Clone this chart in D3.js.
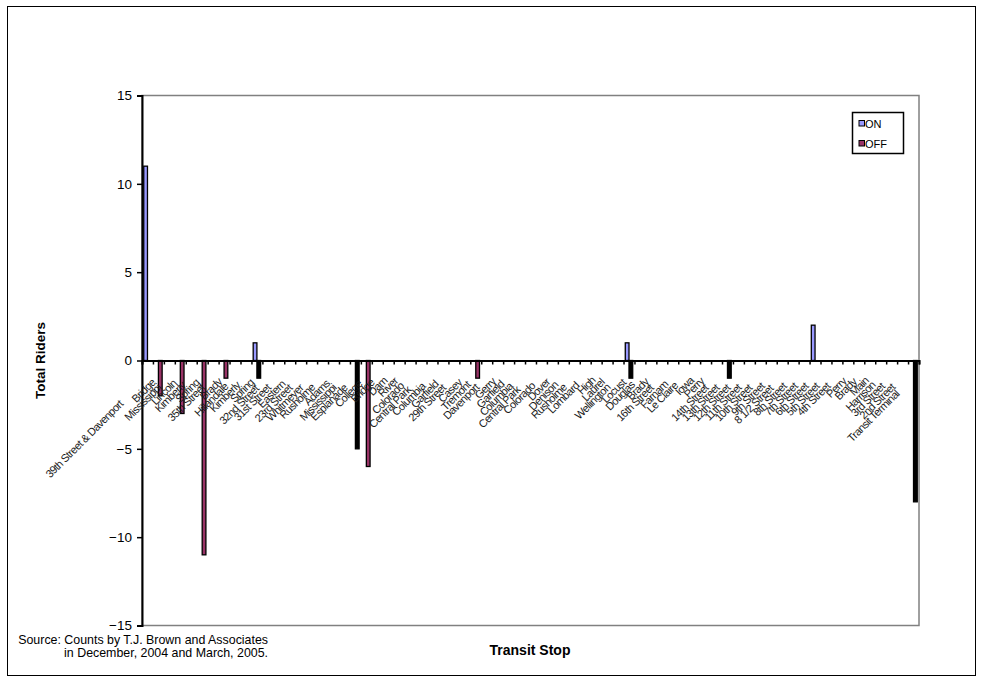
<!DOCTYPE html>
<html><head><meta charset="utf-8">
<script src="https://cdn.jsdelivr.net/npm/d3@7"></script>
<style>body{margin:0;background:#fff;} svg{display:block;font-family:"Liberation Sans",Arial,sans-serif;}</style>
</head><body><svg id="c" width="982" height="679"></svg>
<script>
const categories = ["39th Street & Davenport","Bridge","Mississippi","Lincoln","Kimberly","Spring","35th Street","Brady","Hillandale","Kimberly","Spring","32nd Street","31st Street","Eastern","23rd Street","Whitmeyer","Rusholme","Adams","Mississippi","Esplanade","College","Bridge","Dam","River","Colorado","Central Park","Columbia","Garfield","29th Street","Casey","Tremont","Davenport","Gerry","Garfield","Columbia","Central Park","Colorado","Dover","Denison","Rusholme","Lombard","High","Laurel","Wellington","Locust","Douglas","Brady","16th Street","Farnam","Le Claire","Iowa","Perry","14th Street","13th Street","12th Street","11th Street","10th Street","9th Street","8 1/2 Street","8th Street","7th Street","6th Street","5th Street","4th Street","Perry","Brady","Main","Harrison","3rd Street","2nd Street","Transit Terminal"];
// ON boardings per stop (non-zero entries)
const onStops = [0, 10, 44, 61];
const onCounts = [11, 1, 1, 2];
// OFF alightings per stop (non-zero entries)
const offStops = [1, 3, 5, 7, 20, 30];
const offCounts = [-2, -3, -11, -1, -6, -1];
// OFF alightings drawn in solid black
const offDarkStops = [10, 19, 44, 53, 70];
const offDarkCounts = [-1, -5, -1, -1, -8];
const yTicks = [-15, -10, -5, 0, 5, 10, 15];
const seriesNames = ["ON", "OFF"];

const svg = d3.select("#c");
const plot = {left: 142, right: 919, top: 95.5, bottom: 625.5};

svg.append("rect").attr("x", 7.5).attr("y", 6.5).attr("width", 968).attr("height", 669)
  .attr("fill", "#fff").attr("stroke", "#000").attr("stroke-width", 1);

const x = d3.scaleBand().domain(d3.range(categories.length)).range([plot.left, plot.right]).padding(0);
const xb = d3.scaleLinear().domain([0, categories.length]).range([plot.left, plot.right]);
const y = d3.scaleLinear().domain([-15, 15]).range([plot.bottom, plot.top]);
const bw = x.step() * 0.34;
const cx = i => x(i) + x.bandwidth() / 2;

svg.append("rect").attr("x", plot.left).attr("y", plot.top)
  .attr("width", plot.right - plot.left).attr("height", plot.bottom - plot.top)
  .attr("fill", "none").attr("stroke", "#808080").attr("stroke-width", 1.5);

const bars = svg.append("g");
function drawBars(stops, counts, fill, left) {
  bars.append("g").selectAll("rect").data(stops.map((s, i) => ({s, v: counts[i]}))).join("rect")
    .attr("x", d => left ? cx(d.s) - bw : cx(d.s)).attr("width", bw)
    .attr("y", d => y(Math.max(0, d.v))).attr("height", d => Math.abs(y(d.v) - y(0)))
    .attr("fill", fill).attr("stroke", "#000").attr("stroke-width", 1.3);
}
drawBars(onStops, onCounts, "#9999FF", true);
drawBars(offStops, offCounts, "#993366", false);
drawBars(offDarkStops, offDarkCounts, "#000", false);

const ya = svg.append("g").attr("transform", `translate(${plot.left},0)`)
  .call(d3.axisLeft(y).tickValues(yTicks).tickSize(5).tickPadding(5).tickFormat(d3.format("d")));
ya.select(".domain").attr("stroke", "#000").attr("stroke-width", 2);
ya.selectAll(".tick line").attr("stroke", "#000").attr("stroke-width", 1.5);
ya.selectAll(".tick text").attr("font-size", 13.5).attr("font-family", "Liberation Sans, Arial, sans-serif").attr("fill", "#000");

const xa = svg.append("g").attr("transform", `translate(0,${y(0)})`)
  .call(d3.axisBottom(xb).tickValues(d3.range(categories.length + 1)).tickSize(4).tickFormat(""));
xa.select(".domain").attr("stroke", "#000").attr("stroke-width", 2);
xa.selectAll(".tick line").attr("stroke", "#000").attr("stroke-width", 1.5);

const labels = svg.append("g").selectAll("text").data(categories).join("text")
  .attr("transform", (d, i) => `translate(${cx(i)},${y(0) + 9}) rotate(-45)`)
  .attr("text-anchor", "end").attr("dy", "0.75em")
  .attr("font-size", 11).attr("letter-spacing", -0.6).attr("fill", "#1a1a1a")
  .text(d => d);
labels.attr("x", function() { return -0.4 * this.getComputedTextLength(); });

svg.append("text").attr("transform", `translate(45,${(plot.top + plot.bottom) / 2}) rotate(-90)`)
  .attr("text-anchor", "middle").attr("font-size", 13.5).attr("font-weight", "bold").text("Total Riders");
svg.append("text").attr("x", 530).attr("y", 655).attr("text-anchor", "middle")
  .attr("font-size", 14).attr("font-weight", "bold").text("Transit Stop");
svg.append("text").attr("x", 268).attr("y", 644).attr("text-anchor", "end").attr("font-size", 12.4)
  .text("Source: Counts by T.J. Brown and Associates");
svg.append("text").attr("x", 268).attr("y", 657).attr("text-anchor", "end").attr("font-size", 12.4)
  .text("in December, 2004 and March, 2005.");

const lg = svg.append("g");
lg.append("rect").attr("x", 852.5).attr("y", 112.5).attr("width", 51).attr("height", 41)
  .attr("fill", "#fff").attr("stroke", "#000").attr("stroke-width", 1.5);
const lcol = ["#9999FF", "#993366"];
seriesNames.forEach((n, i) => {
  lg.append("rect").attr("x", 859).attr("y", 120.5 + i * 20).attr("width", 5.5).attr("height", 5.5)
    .attr("fill", lcol[i]).attr("stroke", "#000").attr("stroke-width", 1);
  lg.append("text").attr("x", 865).attr("y", 127.5 + i * 20).attr("font-size", 11).text(n);
});
</script></body></html>
